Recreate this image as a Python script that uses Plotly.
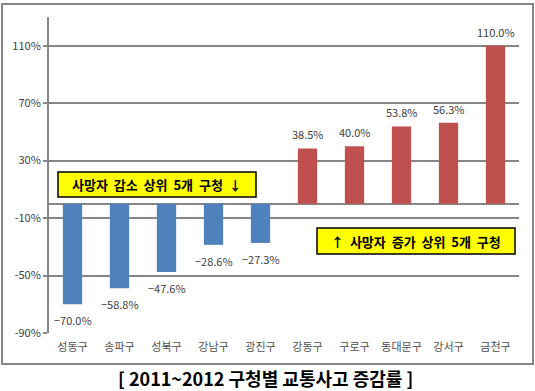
import plotly.graph_objects as go

categories = ["성동구", "송파구", "성북구", "강남구", "광진구",
              "강동구", "구로구", "동대문구", "강서구", "금천구"]
values = [-70.0, -58.8, -47.6, -28.6, -27.3, 38.5, 40.0, 53.8, 56.3, 110.0]
tick_vals = [-90, -50, -10, 30, 70, 110]
tick_text = ["-90%", "-50%", "-10%", "30%", "70%", "110%"]
title_text = "[ 2011~2012 구청별 교통사고 증감률 ]"
box_down = "사망자 감소 상위 5개 구청 ↓"
box_up = "↑ 사망자 증가 상위 5개 구청"

colors = ["#4F81BD" if v < 0 else "#C0504D" for v in values]
labels = [f"{v:.1f}%".replace("-", "\u2212") for v in values]

FONT = "Noto Sans CJK KR"

fig = go.Figure(go.Bar(
    x=categories, y=values, marker=dict(color=colors, line=dict(width=0)),
    width=0.41, hoverinfo="skip",
))

W, H = 535, 391
L, R, T, B = 49, 16, 17, 58
pw, ph = W - L - R, H - T - B


def px(x):
    return (x - L) / pw


def py(y):
    return (H - B - y) / ph


annotations = []
for c, v, t in zip(categories, values, labels):
    annotations.append(dict(
        x=c, y=v, xref="x", yref="y", text=t, showarrow=False,
        yanchor="bottom" if v >= 0 else "top", yshift=4 if v >= 0 else -6,
        font=dict(family=FONT, size=11, color="#404040"),
    ))

annotations += [
    dict(xref="paper", yref="paper", x=px(157), y=py(184.5), xanchor="center", yanchor="middle",
         text=f"<b>{box_down.replace(' ', '  ')}</b>",
         showarrow=False, font=dict(family=FONT, size=13, color="black")),
    dict(xref="paper", yref="paper", x=px(416), y=py(241), xanchor="center", yanchor="middle",
         text=f"<b>{box_up.replace(' ', '  ')}</b>",
         showarrow=False, font=dict(family=FONT, size=13, color="black")),
    dict(xref="paper", yref="paper", x=px(265), y=py(378), xanchor="center", yanchor="middle",
         text=f"<b>{title_text}</b>",
         showarrow=False, font=dict(family=FONT, size=18, color="black")),
]

fig.update_layout(
    width=W, height=H, margin=dict(l=L, r=R, t=T, b=B, autoexpand=False),
    paper_bgcolor="white", plot_bgcolor="white", showlegend=False,
    font=dict(family=FONT, size=10, color="#404040"),
    xaxis=dict(showgrid=False, showline=False, ticks="", ticklabelstandoff=6,
               tickfont=dict(size=11, color="#505050"), range=[-0.5, 9.5]),
    yaxis=dict(range=[-90, 130], tickvals=tick_vals, ticktext=tick_text,
               showgrid=True, gridcolor="#868686", gridwidth=2,
               zeroline=True, zerolinecolor="#868686", zerolinewidth=2,
               showline=True, linecolor="#868686", linewidth=2,
               ticks="outside", ticklen=4, tickcolor="#868686", tickwidth=2,
               tickfont=dict(size=11, color="#404040")),
    shapes=[
        dict(type="rect", xref="paper", yref="paper",
             x0=px(2), x1=px(533), y0=py(364), y1=py(4),
             line=dict(color="#868686", width=2), fillcolor="rgba(0,0,0,0)"),
        dict(type="rect", xref="paper", yref="paper",
             x0=px(58), x1=px(256), y0=py(197), y1=py(172),
             line=dict(color="black", width=1.5), fillcolor="#FFFF00"),
        dict(type="rect", xref="paper", yref="paper",
             x0=px(317), x1=px(515), y0=py(254), y1=py(228),
             line=dict(color="black", width=1.5), fillcolor="#FFFF00"),
    ],
    annotations=annotations,
)

fig.write_html("out.html", config={"displayModeBar": False},
               post_script="document.body.style.margin='0px';")
